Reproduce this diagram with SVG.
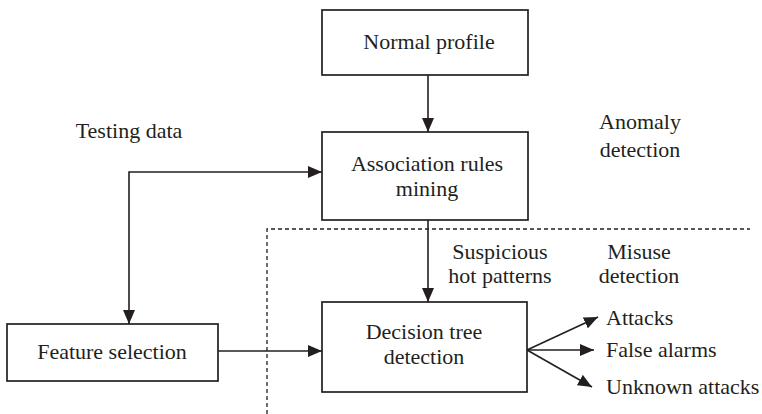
<svg xmlns="http://www.w3.org/2000/svg" width="762" height="414" viewBox="0 0 762 414">
<style>
.box{fill:#fff;stroke:#231f20;stroke-width:1.7}
.t{font-family:"Liberation Serif",serif;font-size:22px;fill:#231f20}
.m{text-anchor:middle}
.c{fill:none;stroke:#231f20;stroke-width:1.6}
.d{fill:none;stroke:#231f20;stroke-width:1.3;stroke-dasharray:4,3}
</style>
<defs>
<marker id="a" viewBox="0 0 14 12" refX="14" refY="6" markerWidth="14" markerHeight="12" markerUnits="userSpaceOnUse" orient="auto-start-reverse">
<path d="M0,0 L14,6 L0,12 z" fill="#231f20"/>
</marker>
</defs>
<rect width="762" height="414" fill="#fff"/>
<g id="regions">
<path class="d" d="M267,414 V229 H750"/>
</g>
<g id="connectors">
<path class="c" d="M428,75 V132" marker-end="url(#a)"/>
<path class="c" d="M129,324 V172 H322" marker-start="url(#a)" marker-end="url(#a)"/>
<path class="c" d="M428,220 V302" marker-end="url(#a)"/>
<path class="c" d="M218,351 H322" marker-end="url(#a)"/>
<path class="c" d="M527,350 L598,317" marker-end="url(#a)"/>
<path class="c" d="M527,350 H594" marker-end="url(#a)"/>
<path class="c" d="M527,350 L592,387" marker-end="url(#a)"/>
</g>
<g id="normal-profile">
<rect class="box" x="322" y="10" width="206" height="65"/>
<text class="t m" x="429" y="49">Normal profile</text>
</g>
<g id="association-rules">
<rect class="box" x="322" y="132" width="206" height="88"/>
<text class="t m" x="427" y="171">Association rules</text>
<text class="t m" x="427" y="196">mining</text>
</g>
<g id="decision-tree">
<rect class="box" x="322" y="302" width="205" height="90"/>
<text class="t m" x="424" y="339">Decision tree</text>
<text class="t m" x="424" y="364">detection</text>
</g>
<g id="feature-selection">
<rect class="box" x="7" y="324" width="211" height="57"/>
<text class="t m" x="112" y="359">Feature selection</text>
</g>
<g id="labels">
<text class="t m" x="129" y="138">Testing data</text>
<text class="t m" x="640" y="129">Anomaly</text>
<text class="t m" x="640" y="157">detection</text>
<text class="t m" x="500" y="259">Suspicious</text>
<text class="t m" x="500" y="283">hot patterns</text>
<text class="t m" x="639" y="259">Misuse</text>
<text class="t m" x="639" y="283">detection</text>
<text class="t" x="606" y="325">Attacks</text>
<text class="t" x="606" y="357">False alarms</text>
<text class="t" x="606" y="394">Unknown attacks</text>
</g>
</svg>
